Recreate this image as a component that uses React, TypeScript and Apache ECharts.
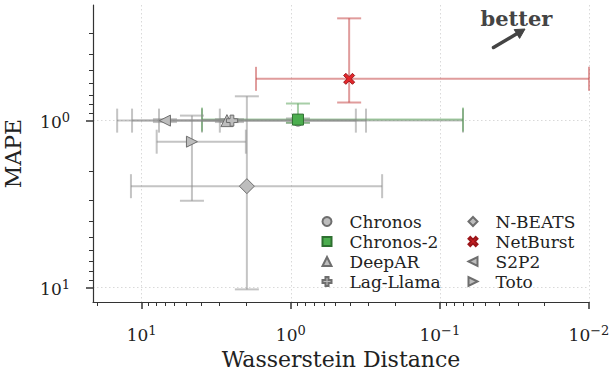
import React, { useEffect, useRef } from 'react';
import * as echarts from 'echarts';

// ---- data ----
const models = ['Chronos', 'Chronos-2', 'DeepAR', 'Lag-Llama', 'N-BEATS', 'NetBurst', 'S2P2', 'Toto'];
const wassersteinDistance = [0.895, 0.895, 2.68, 2.48, 1.97, 0.406, 6.98, 4.6];
const wdErrHigh = [3.94, 3.94, 14.6, 7.65, 11.8, 1.71, 11.6, 7.93];
const wdErrLow = [0.07, 0.07, 0.313, 0.366, 0.244, 0.01, 2.99, 2.0];
const mape = [1.0, 0.986, 1.0, 1.0, 2.47, 0.562, 1.0, 1.337];
const mapeErrLow = [0.97, 0.79, 0.98, 0.98, 0.715, 0.244, 0.98, 0.933];
const mapeErrHigh = [1.03, 1.03, 1.02, 1.02, 10.25, 0.779, 1.02, 3.02];

const xMajorTicks = [10, 1, 0.1, 0.01];
const xMinorTicks = [20, 9, 8, 7, 6, 5, 4, 3, 2, 0.9, 0.8, 0.7, 0.6, 0.5, 0.4, 0.3, 0.2, 0.09, 0.08, 0.07, 0.06, 0.05, 0.04, 0.03, 0.02];
const yMajorTicks = [1, 10];
const yMinorTicks = [0.3, 0.4, 0.5, 0.6, 0.7, 0.8, 0.9, 2, 3, 4, 5, 6, 7, 8, 9];

const legendCol1 = ['Chronos', 'Chronos-2', 'DeepAR', 'Lag-Llama'];
const legendCol2 = ['N-BEATS', 'NetBurst', 'S2P2', 'Toto'];

// ---- styles ----
const FONT = 'DejaVu Serif';
const GRAY_FILL = '#bdbdbd';
const GRAY_EDGE = '#6e6e6e';
const GRAY_BAR = '#8a8a8a';
const markerStyle: Record<string, any> = {
  'Chronos': { symbol: 'circle', size: 11, fill: GRAY_FILL, edge: GRAY_EDGE, bar: GRAY_BAR },
  'Chronos-2': { symbol: 'path://M0,0H10V10H0Z', size: 11, fill: '#4cae4f', edge: '#2e7031', bar: '#4f9e4f' },
  'DeepAR': { symbol: 'path://M5,0L10,10L0,10Z', size: 12, fill: GRAY_FILL, edge: GRAY_EDGE, bar: GRAY_BAR },
  'Lag-Llama': { symbol: 'path://M3.3,0H6.7V3.3H10V6.7H6.7V10H3.3V6.7H0V3.3H3.3Z', size: 11, fill: GRAY_FILL, edge: GRAY_EDGE, bar: GRAY_BAR },
  'N-BEATS': { symbol: 'path://M5,0L10,5L5,10L0,5Z', size: 15, fill: GRAY_FILL, edge: GRAY_EDGE, bar: GRAY_BAR },
  'NetBurst': { symbol: 'path://M2,0L5,3L8,0L10,2L7,5L10,8L8,10L5,7L2,10L0,8L3,5L0,2Z', size: 11, fill: '#e3262b', edge: '#9c1519', bar: '#c23a3a' },
  'S2P2': { symbol: 'path://M0,5L10,0L10,10Z', size: 11, fill: GRAY_FILL, edge: GRAY_EDGE, bar: GRAY_BAR },
  'Toto': { symbol: 'path://M10,5L0,0L0,10Z', size: 11, fill: GRAY_FILL, edge: GRAY_EDGE, bar: GRAY_BAR },
};

const powLabel = (v: number) => {
  const e = Math.round(Math.log10(v));
  const s = e < 0 ? '\u2212' + String(-e) : String(e);
  return '{b|10}{s|' + s + '}';
};
const labelRich = {
  b: { fontFamily: FONT, fontSize: 17, color: '#222', padding: [2, 0, 0, 0], verticalAlign: 'bottom' },
  s: { fontFamily: FONT, fontSize: 13, color: '#222', verticalAlign: 'top' },
};

const X_MIN = 0.01;
const X_MAX = 21.2;
const Y_MIN = 0.203;
const Y_MAX = 12.2;

export default function App() {
  const ref = useRef<HTMLDivElement>(null);
  useEffect(() => {
    if (!ref.current) return;
    const chart = echarts.init(ref.current, null, { renderer: 'svg' });

    const series: any[] = [];
    models.forEach((m, i) => {
      const st = markerStyle[m];
      series.push({
        name: m + ' error',
        type: 'custom',
        xAxisIndex: 0,
        yAxisIndex: 0,
        silent: true,
        clip: false,
        data: [[wassersteinDistance[i], mape[i], wdErrHigh[i], wdErrLow[i], mapeErrLow[i], mapeErrHigh[i]]],
        encode: { x: 0, y: 1 },
        renderItem: (_p: any, api: any) => {
          const x = api.value(0), y = api.value(1);
          const l = api.coord([api.value(2), y]);
          const r = api.coord([api.value(3), y]);
          const t = api.coord([x, api.value(4)]);
          const b = api.coord([x, api.value(5)]);
          const cap = 12;
          const style = { stroke: st.bar, lineWidth: 2, opacity: 0.5 };
          const ln = (x1: number, y1: number, x2: number, y2: number) => ({
            type: 'line', shape: { x1, y1, x2, y2 }, style,
          });
          return {
            type: 'group',
            children: [
              ln(l[0], l[1], r[0], r[1]),
              ln(t[0], t[1], b[0], b[1]),
              ln(l[0], l[1] - cap, l[0], l[1] + cap),
              ln(r[0], r[1] - cap, r[0], r[1] + cap),
              ln(t[0] - cap, t[1], t[0] + cap, t[1]),
              ln(b[0] - cap, b[1], b[0] + cap, b[1]),
            ],
          };
        },
      });
      series.push({
        name: m,
        type: 'scatter',
        xAxisIndex: 0,
        yAxisIndex: 0,
        silent: true,
        symbol: st.symbol,
        symbolSize: st.size,
        itemStyle: { color: st.fill, borderColor: st.edge, borderWidth: 1, opacity: 1 },
        data: [[wassersteinDistance[i], mape[i]]],
      });
    });

    const axisLineStyle = { color: '#333', width: 1.2 };
    const legendBase = {
      orient: 'vertical',
      padding: 0,
      itemWidth: 35,
      itemHeight: 9,
      itemGap: 3,
      selectedMode: false,
      symbolKeepAspect: true,
      textStyle: { fontFamily: FONT, fontSize: 17, color: '#222' },
    };

    chart.setOption({
      animation: false,
      grid: { left: 93, right: 24, top: 5, bottom: 73, containLabel: false, outerBoundsMode: 'none' },
      xAxis: [
        {
          type: 'log',
          inverse: true,
          min: X_MIN,
          max: X_MAX,
          position: 'bottom',
          name: 'Wasserstein Distance',
          nameLocation: 'middle',
          nameGap: 46,
          nameTextStyle: { fontFamily: FONT, fontSize: 22, color: '#222' },
          axisLine: { show: true, lineStyle: axisLineStyle },
          axisTick: { show: true, customValues: xMajorTicks, length: 7, lineStyle: { color: '#333', width: 1.5 } },
          axisLabel: {
            customValues: xMajorTicks,
            formatter: (v: number) => powLabel(v),
            rich: labelRich,
            margin: 22,
          },
          splitLine: { show: true, lineStyle: { color: '#d9d9d9', type: [1.5, 2.5], width: 1 } },
        },
        {
          type: 'log',
          inverse: true,
          min: X_MIN,
          max: X_MAX,
          position: 'bottom',
          axisLine: { show: false },
          axisTick: { show: true, customValues: xMinorTicks, length: 4, lineStyle: { color: '#333', width: 1 } },
          axisLabel: { show: false },
          splitLine: { show: false },
        },
      ],
      yAxis: [
        {
          type: 'log',
          inverse: true,
          min: Y_MIN,
          max: Y_MAX,
          position: 'left',
          name: 'MAPE',
          nameLocation: 'middle',
          nameGap: 69,
          nameTextStyle: { fontFamily: FONT, fontSize: 22, color: '#222' },
          axisLine: { show: true, lineStyle: axisLineStyle },
          axisTick: { show: true, customValues: yMajorTicks, length: 7, lineStyle: { color: '#333', width: 1.5 } },
          axisLabel: {
            customValues: yMajorTicks,
            formatter: (v: number) => powLabel(v),
            rich: labelRich,
            margin: 23,
          },
          splitLine: { show: true, lineStyle: { color: '#d9d9d9', type: [1.5, 2.5], width: 1 } },
        },
        {
          type: 'log',
          inverse: true,
          min: Y_MIN,
          max: Y_MAX,
          position: 'left',
          axisLine: { show: false },
          axisTick: { show: true, customValues: yMinorTicks, length: 4, lineStyle: { color: '#333', width: 1 } },
          axisLabel: { show: false },
          splitLine: { show: false },
        },
      ],
      legend: [
        { ...legendBase, data: legendCol1, left: 321.5, top: 213 },
        { ...legendBase, data: legendCol2, left: 467.5, top: 213 },
      ],
      graphic: [
        {
          type: 'text',
          x: 516.5,
          y: 18,
          style: {
            text: 'better',
            font: `bold 21px "${FONT}"`,
            fill: '#444',
            align: 'center',
            verticalAlign: 'middle',
          },
        },
        {
          type: 'line',
          shape: { x1: 493.5, y1: 47.5, x2: 518, y2: 33 },
          style: { stroke: '#444', lineWidth: 3.5, lineCap: 'round' },
        },
        {
          type: 'polygon',
          shape: { points: [[525, 29], [514.2, 29.6], [519.6, 38.4]] },
          style: { fill: '#444', stroke: '#444', lineWidth: 1, lineJoin: 'round' },
        },
      ],
      series,
    });

    return () => chart.dispose();
  }, []);

  return (
    <div
      ref={ref}
      style={{ position: 'absolute', left: 0, top: 0, width: 613, height: 375, background: '#fff' }}
    />
  );
}
